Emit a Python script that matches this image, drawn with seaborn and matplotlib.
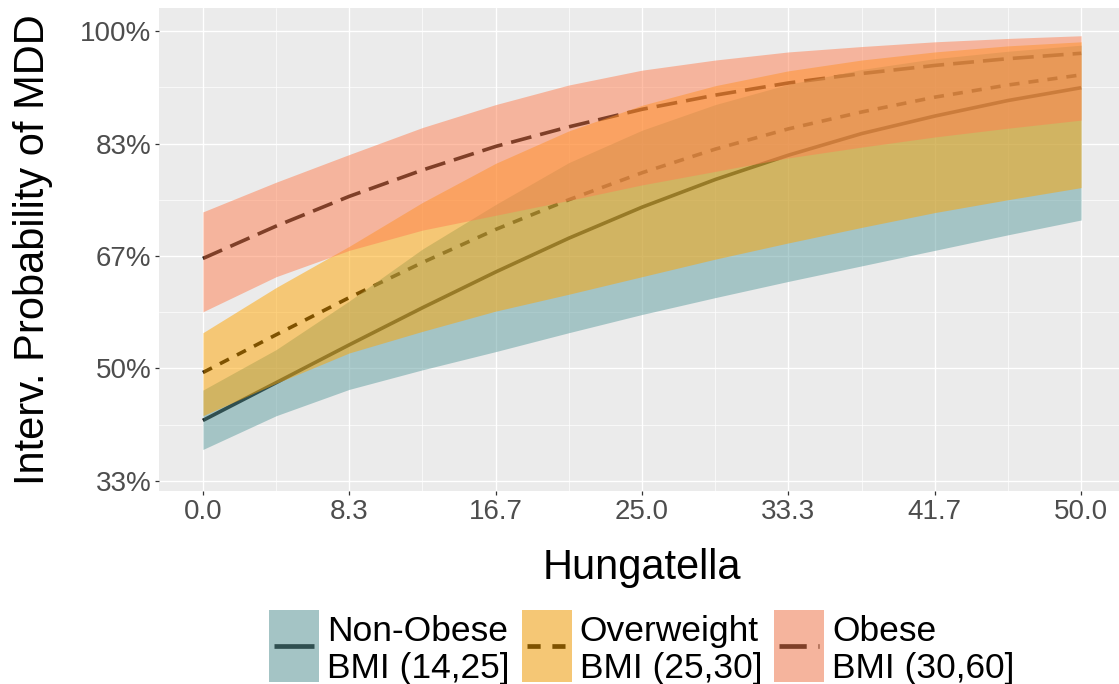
import matplotlib
matplotlib.use("Agg")
import matplotlib.pyplot as plt
import seaborn as sns
import pandas as pd
from matplotlib.patches import Patch
from matplotlib.lines import Line2D
from matplotlib.legend_handler import HandlerPatch, HandlerLine2D

# ---------------- data (percent) ----------------
hungatella = [0, 4.17, 8.33, 12.5, 16.67, 20.83, 25, 29.17, 33.33, 37.5, 41.67, 45.83, 50]

group_labels = ["Non-Obese\nBMI (14,25]", "Overweight\nBMI (25,30]", "Obese\nBMI (30,60]"]

nonobese_fit = [42.3, 47.9, 53.5, 59.0, 64.3, 69.3, 73.9, 78.0, 81.6, 84.8, 87.4, 89.7, 91.6]
nonobese_low = [38.0, 43.0, 46.9, 49.8, 52.5, 55.3, 58.0, 60.5, 62.9, 65.2, 67.5, 69.8, 72.0]
nonobese_high = [46.8, 52.8, 60.0, 67.7, 74.3, 80.5, 85.3, 89.1, 92.1, 94.3, 95.9, 97.0, 97.9]

overweight_fit = [49.4, 55.0, 60.5, 65.7, 70.6, 75.0, 79.0, 82.5, 85.5, 88.0, 90.2, 92.0, 93.5]
overweight_low = [43.0, 47.8, 52.3, 55.5, 58.5, 61.0, 63.6, 66.2, 68.6, 70.9, 73.1, 75.0, 76.8]
overweight_high = [55.3, 62.0, 68.1, 74.6, 80.4, 85.2, 89.0, 91.9, 94.1, 95.7, 96.9, 97.8, 98.4]

obese_fit = [66.3, 71.1, 75.5, 79.4, 82.9, 85.8, 88.4, 90.5, 92.3, 93.7, 94.9, 95.9, 96.7]
obese_low = [58.4, 63.6, 67.5, 70.5, 72.7, 74.9, 77.2, 79.2, 81.2, 82.8, 84.3, 85.6, 86.8]
obese_high = [73.2, 77.6, 81.7, 85.7, 89.1, 92.0, 94.2, 95.7, 96.9, 97.7, 98.4, 98.9, 99.3]

x_ticks = [0, 8.33, 16.67, 25, 33.33, 41.67, 50]
x_tick_labels = ["0.0", "8.3", "16.7", "25.0", "33.3", "41.7", "50.0"]
y_ticks = [33.33, 50, 66.67, 83.33, 100]
y_tick_labels = ["33%", "50%", "67%", "83%", "100%"]

x_title = "Hungatella"
y_title = "Interv. Probability of MDD"

# ---------------- style ----------------
PANEL = "#EBEBEB"
sns.set_theme(style="darkgrid", rc={"axes.facecolor": PANEL, "grid.color": "white"})
plt.rcParams["font.family"] = ["Liberation Sans", "DejaVu Sans"]

fill_colors = ["cadetblue", "orange", "coral"]
line_dashes = [None, (2.8, 2.5), (5.8, 2.5)]
LW = 2.6
KEY_SHIFT = 5.0   # points: raise legend keys relative to their labels
KEY_INSET = 3.6   # points: horizontal inset of the key line


class ShiftedPatch(HandlerPatch):
    def create_artists(self, legend, orig_handle, xdescent, ydescent, width, height,
                       fontsize, trans):
        arts = super().create_artists(legend, orig_handle, xdescent, ydescent, width,
                                      height, fontsize, trans)
        for a in arts:
            a.set_y(a.get_y() + KEY_SHIFT)
        return arts


class ShiftedLine(HandlerLine2D):
    def create_artists(self, legend, orig_handle, xdescent, ydescent, width, height,
                       fontsize, trans):
        arts = super().create_artists(legend, orig_handle, xdescent, ydescent, width,
                                      height, fontsize, trans)
        yc = -ydescent + height / 2 + KEY_SHIFT
        x0 = -xdescent + KEY_INSET
        x1 = -xdescent + width - KEY_INSET
        for a in arts:
            a.set_data([x0, (x0 + x1) / 2, x1], [yc, yc, yc])
        return arts


series = [
    (nonobese_fit, nonobese_low, nonobese_high),
    (overweight_fit, overweight_low, overweight_high),
    (obese_fit, obese_low, obese_high),
]

fig = plt.figure(figsize=(11.19, 6.84), dpi=100)
fig.patch.set_facecolor("white")
ax = fig.add_axes([0.1421, 0.2822, 0.8633, 0.7061])
ax.set_facecolor(PANEL)

# lines first (ribbons are drawn over them, as in the reference)
for (fit, lo, hi), dash in zip(series, line_dashes):
    df = pd.DataFrame({"x": hungatella, "y": fit})
    sns.lineplot(data=df, x="x", y="y", color="black", linewidth=LW, ax=ax, zorder=2)
    ln = ax.lines[-1]
    if dash is not None:
        ln.set_dashes(dash)
    ln.set_dash_capstyle("butt")
    ln.set_solid_capstyle("butt")

for i, ((fit, lo, hi), col) in enumerate(zip(series, fill_colors)):
    ax.fill_between(hungatella, lo, hi, color=col, alpha=0.5, linewidth=0, zorder=3 + i)

ax.set_xlim(-2.5, 52.5)
ax.set_ylim(31.85, 103.41)
ax.set_xticks(x_ticks)
ax.set_xticklabels(x_tick_labels)
ax.set_yticks(y_ticks)
ax.set_yticklabels(y_tick_labels)
ax.set_xticks([(a + b) / 2 for a, b in zip(x_ticks[:-1], x_ticks[1:])], minor=True)
ax.set_yticks([(a + b) / 2 for a, b in zip(y_ticks[:-1], y_ticks[1:])], minor=True)
ax.grid(which="major", color="white", linewidth=1.0)
ax.grid(which="minor", color="white", linewidth=0.5)
ax.set_axisbelow(True)
for s in ax.spines.values():
    s.set_visible(False)

ax.tick_params(axis="both", which="major", length=3.0, width=0.9, color="#333333",
               labelcolor="#4D4D4D", labelsize=20, pad=2.5)
ax.tick_params(axis="both", which="minor", length=0)
ax.tick_params(axis="x", bottom=True)
ax.tick_params(axis="y", left=True)

ax.set_xlabel(x_title, fontsize=30, color="black")
ax.set_ylabel(y_title, fontsize=30, color="black")
ax.xaxis.set_label_coords(0.5, -0.118)
ax.yaxis.set_label_coords(-0.110, 0.5)

# legend
handles = []
for col, dash in zip(fill_colors, line_dashes):
    if dash is None:
        ln = Line2D([], [], color="black", linewidth=LW * 1.3, solid_capstyle="butt")
    else:
        ln = Line2D([], [], color="black", linewidth=LW * 1.3, linestyle=(0, dash),
                    dash_capstyle="butt")
    handles.append((Patch(facecolor=PANEL, edgecolor="none"), ln,
                    Patch(facecolor=col, alpha=0.5, edgecolor="none")))

leg = fig.legend(handles, group_labels, loc="center", bbox_to_anchor=(0.5737, 0.0468),
                 ncol=3, frameon=False, fontsize=25.5, handlelength=1.41, handleheight=2.75,
                 handletextpad=0.23, columnspacing=0.34, borderpad=0, borderaxespad=0,
                 handler_map={Patch: ShiftedPatch(), Line2D: ShiftedLine()})
for t in leg.get_texts():
    t.set_linespacing(1.15)
    t.set_color("black")

fig.savefig("out.png", dpi=100, facecolor="white")
